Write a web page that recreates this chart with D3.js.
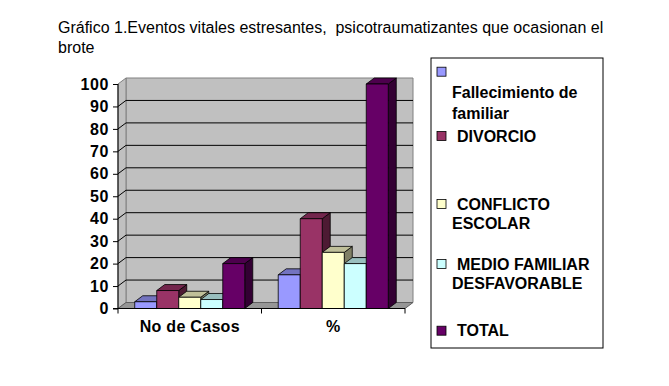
<!DOCTYPE html>
<html><head><meta charset="utf-8">
<script src="https://cdn.jsdelivr.net/npm/d3@7"></script>
<style>
html,body{margin:0;padding:0;background:#fff;}
svg{display:block;font-family:Arial,"Liberation Sans",sans-serif;}
.title{white-space:pre;}
</style></head>
<body><svg id="chart" width="669" height="386"></svg>
<script>
// ---- data ----
const titleLines = ["Gráfico 1.Eventos vitales estresantes,  psicotraumatizantes que ocasionan el", "brote"];
const categories = ["No de Casos", "%"];
const seriesNames = ["Fallecimiento de familiar", "DIVORCIO", "CONFLICTO ESCOLAR", "MEDIO FAMILIAR DESFAVORABLE", "TOTAL"];
const fallecimiento = [3, 15];
const divorcio = [8, 40];
const conflicto = [5, 25];
const medio = [4, 20];
const total = [20, 100];
const yTicks = [0, 10, 20, 30, 40, 50, 60, 70, 80, 90, 100];
const legendLines = [["", "Fallecimiento de", "familiar"], ["DIVORCIO"], ["CONFLICTO", "ESCOLAR"], ["MEDIO FAMILIAR", "DESFAVORABLE"], ["TOTAL"]];
const seriesColors = ["#9999FF", "#993366", "#FFFFCC", "#CCFFFF", "#660066"];

const seriesValues = [fallecimiento, divorcio, conflicto, medio, total];

// ---- layout ----
const svg = d3.select("#chart");
const X0 = 118, X1 = 405, DX = 8, DY = -6;
const y = d3.scaleLinear().domain([0, 100]).range([308.5, 84]);
const x0 = d3.scaleBand().domain(categories).range([X0, X1]).padding(0);
const x1 = d3.scaleBand().domain(seriesNames).range([0, x0.bandwidth()]).paddingInner(0).paddingOuter(0.76);

function shade(c, k) {
  const r = d3.rgb(c);
  return d3.rgb(r.r * k, r.g * k, r.b * k).formatHex();
}
const pts = a => a.map(p => p.join(",")).join(" ");

// title
svg.append("g").selectAll("text").data(titleLines).join("text")
  .attr("class", "title").attr("xml:space", "preserve")
  .attr("x", 58).attr("y", (d, i) => 33 + i * 20)
  .attr("font-size", 16).attr("fill", "#000").text(d => d);

// walls
const yb = y(0), yt = y(100);
svg.append("polygon").attr("points", pts([[X0 + DX, yb + DY], [X1 + DX, yb + DY], [X1 + DX, yt + DY], [X0 + DX, yt + DY]]))
  .attr("fill", "#C0C0C0").attr("stroke", "#808080");
svg.append("polygon").attr("points", pts([[X0, yb], [X0 + DX, yb + DY], [X0 + DX, yt + DY], [X0, yt]]))
  .attr("fill", "#C0C0C0").attr("stroke", "#808080");
// gridlines
svg.append("g").selectAll("polyline").data(yTicks.filter(v => v > 0 && v < 100)).join("polyline")
  .attr("points", v => pts([[X0, y(v)], [X0 + DX, y(v) + DY], [X1 + DX, y(v) + DY]]))
  .attr("fill", "none").attr("stroke", "#000").attr("stroke-width", 1);
// floor
svg.append("polygon").attr("points", pts([[X0, yb], [X1, yb], [X1 + DX, yb + DY], [X0 + DX, yb + DY]]))
  .attr("fill", "#969696").attr("stroke", "#606060");

// bars
const bars = [];
categories.forEach((c, ci) => {
  seriesNames.forEach((s, si) => {
    bars.push({ c, s, si, v: seriesValues[si][ci] });
  });
});
const gb = svg.append("g");
bars.forEach(b => {
  const xl = x0(b.c) + x1(b.s), w = x1.bandwidth();
  const ytop = y(b.v), y0 = y(0);
  const col = seriesColors[b.si];
  const g = gb.append("g").attr("stroke", "#000").attr("stroke-width", 0.8).attr("stroke-linejoin", "round");
  g.append("polygon").attr("points", pts([[xl + w, ytop], [xl + w + DX, ytop + DY], [xl + w + DX, y0 + DY], [xl + w, y0]]))
    .attr("fill", shade(col, 0.5));
  g.append("polygon").attr("points", pts([[xl, ytop], [xl + DX, ytop + DY], [xl + w + DX, ytop + DY], [xl + w, ytop]]))
    .attr("fill", shade(col, 0.75));
  g.append("rect").attr("x", xl).attr("y", ytop).attr("width", w).attr("height", y0 - ytop)
    .attr("fill", col);
});

// y axis
const yAxis = d3.axisLeft(y).tickValues(yTicks).tickSize(5).tickPadding(4).tickFormat(d3.format("d"));
const gy = svg.append("g").attr("transform", `translate(${X0},0)`).call(yAxis);
gy.select(".domain").attr("stroke", "#000").attr("d", `M-5,${y(0)}H0V${y(100)}`);
gy.selectAll("text").attr("font-size", 16).attr("font-weight", "bold").attr("font-family", "Arial, 'Liberation Sans', sans-serif").attr("fill", "#000").attr("letter-spacing", 0.6);

// x axis
const xAxis = d3.axisBottom(x0).tickSize(0).tickPadding(12);
const gx = svg.append("g").attr("transform", `translate(0,${y(0)})`).call(xAxis);
gx.select(".domain").attr("stroke", "#000").attr("d", `M${X0},0H${X1}`);
gx.selectAll("text").attr("font-size", 16).attr("font-weight", "bold").attr("font-family", "Arial, 'Liberation Sans', sans-serif").attr("fill", "#000").attr("letter-spacing", 0.3);
gx.append("g").selectAll("line").data([X0, x0(categories[1]), X1]).join("line")
  .attr("x1", d => d).attr("x2", d => d).attr("y1", 0).attr("y2", 5).attr("stroke", "#000");

// legend
svg.append("rect").attr("x", 431).attr("y", 58).attr("width", 172).attr("height", 290)
  .attr("fill", "#fff").attr("stroke", "#000");
const legendY = [71.7, 136, 204, 264, 330.7];
const lg = svg.append("g").attr("font-size", 16).attr("font-weight", "bold");
seriesNames.forEach((s, i) => {
  lg.append("rect").attr("x", 437).attr("y", legendY[i] - 4.5).attr("width", 9).attr("height", 9)
    .attr("fill", seriesColors[i]).attr("stroke", "#000").attr("stroke-width", 0.8);
  legendLines[i].forEach((t, j) => {
    if (!t) return;
    const first = j === 0;
    lg.append("text").attr("x", first ? 457 : 452)
      .attr("y", (i === 0 ? legendY[i] + 21 * (j) : legendY[i] + 19.5 * j) + 5.5)
      .attr("fill", "#000").text(t);
  });
});
</script></body></html>
